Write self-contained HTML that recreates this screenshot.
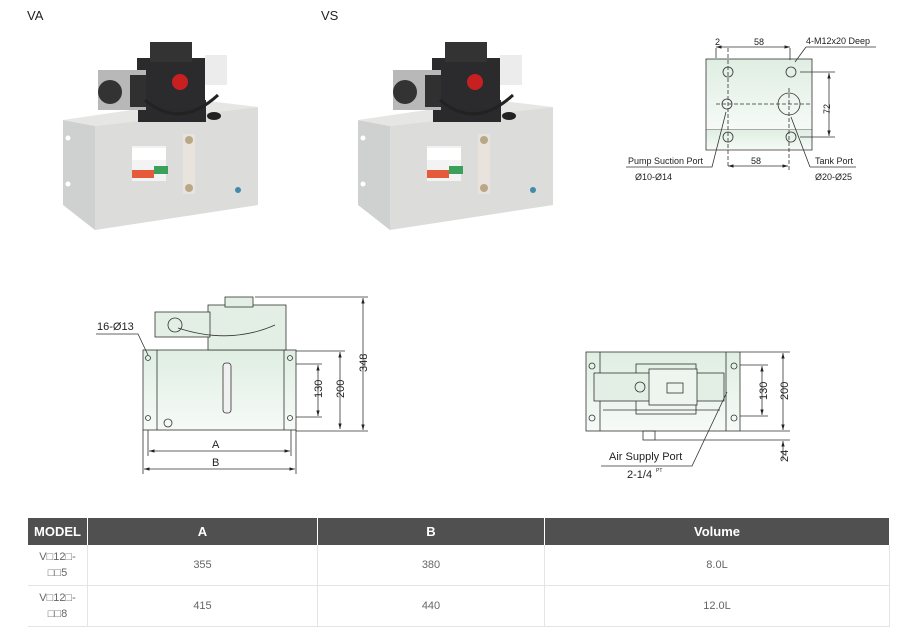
<!DOCTYPE html>
<html><head><meta charset="utf-8"><style>
body{margin:0;width:908px;height:635px;background:#fff;overflow:hidden;position:relative;font-family:"Liberation Sans","Noto Sans CJK SC",sans-serif;}
.lbl{position:absolute;font-size:13px;color:#222;}
table{position:absolute;left:28px;top:518px;width:862px;border-collapse:collapse;font-size:11px;color:#666;}
th{background:#505050;color:#fff;font-size:13px;font-weight:bold;height:27px;border-right:1px solid #fff;padding:0;}
td{text-align:center;height:40px;border-bottom:1px solid #e4e4e4;border-right:1px solid #e4e4e4;padding:0;line-height:16px;}
svg text{font-family:"Liberation Sans",sans-serif;}
</style></head><body>
<div class="lbl" style="left:27px;top:8px">VA</div>
<div class="lbl" style="left:321px;top:8px">VS</div>
<svg width="908" height="510" style="position:absolute;left:0;top:0">
<defs>
<linearGradient id="g1" x1="0" y1="0" x2="0" y2="1"><stop offset="0" stop-color="#dfeee2"/><stop offset="1" stop-color="#f6faf7"/></linearGradient>
<marker id="ar" viewBox="0 0 10 10" refX="10" refY="5" markerWidth="7" markerHeight="7" orient="auto-start-reverse"><path d="M0,2 L10,5 L0,8 z" fill="#222"/></marker>
<g id="unit">
<polygon points="63,120 95,126 95,230 63,205" fill="#cfd0d0"/>
<polygon points="63,120 200,100 258,107 95,126" fill="#e6e6e4"/>
<polygon points="95,126 258,107 258,205 95,230" fill="#dcdcda"/>
<rect x="205" y="55" width="22" height="30" fill="#ececec"/>
<rect x="138" y="100" width="68" height="22" fill="#2a2a2c"/>
<rect x="137" y="58" width="68" height="50" fill="#2b2b2e"/>
<rect x="150" y="42" width="42" height="20" fill="#333"/>
<circle cx="180" cy="82" r="8" fill="#c82020"/>
<rect x="98" y="70" width="48" height="40" fill="#b8b8b8"/>
<circle cx="110" cy="92" r="12" fill="#333"/>
<rect x="130" y="75" width="16" height="32" fill="#303030"/>
<path d="M145,100 Q180,130 218,95" stroke="#222" stroke-width="3" fill="none"/>
<ellipse cx="214" cy="116" rx="7" ry="4" fill="#222"/>
<rect x="132" y="146" width="34" height="35" fill="#f3f3f3"/>
<rect x="132" y="148" width="34" height="12" fill="#fff"/>
<rect x="132" y="170" width="22" height="8" fill="#e55a3a"/>
<rect x="154" y="166" width="14" height="8" fill="#3aa05a"/>
<rect x="183" y="134" width="12" height="60" fill="#e8e3dc"/>
<circle cx="189" cy="140" r="4" fill="#b9a888"/><circle cx="189" cy="188" r="4" fill="#b9a888"/>
<circle cx="238" cy="190" r="3" fill="#4488aa"/>
<circle cx="68" cy="138" r="2.5" fill="#fff"/><circle cx="68" cy="184" r="2.5" fill="#fff"/>
</g>
</defs>
<use href="#unit"/>
<use href="#unit" x="295"/>

<!-- top right plate -->
<g stroke="#333" stroke-width="0.8" fill="none" font-size="9">
<rect x="706" y="59" width="106" height="71" fill="url(#g1)"/>
<circle cx="728" cy="72" r="5"/><circle cx="791" cy="72" r="5"/>
<circle cx="728" cy="137" r="5"/><circle cx="791" cy="137" r="5"/>
<rect x="706" y="130" width="106" height="20" fill="url(#g1)" stroke="none"/>
<path d="M706,130 V150 H812 V130" />
<circle cx="728" cy="137" r="5"/><circle cx="791" cy="137" r="5"/>
<circle cx="727" cy="104" r="5"/><circle cx="789" cy="104" r="11"/>
<path d="M716,104 H810 M728,48 V166 M789,88 V172" stroke-dasharray="4,2"/>
<path d="M716,48 V58 M790,48 V60" />
<path d="M716,47 H790" marker-end="url(#ar)" marker-start="url(#ar)"/>
<path d="M800,72 H835 M800,137 H835"/>
<path d="M829,73 V136" marker-end="url(#ar)" marker-start="url(#ar)"/>
<path d="M728,166 H788" marker-end="url(#ar)" marker-start="url(#ar)"/>
<path d="M806,47 H876 M806,47 L795,62" />
<path d="M626,167 H712 L726,112" />
<path d="M810,167 H856 M810,167 L791,117" />
</g>
<g font-size="9" fill="#222">
<text x="715" y="45">2</text><text x="754" y="45">58</text>
<text x="806" y="44">4-M12x20 Deep</text>
<text x="830" y="108" transform="rotate(-90 830 108) translate(-6 0)" font-size="9">72</text>
<text x="751" y="164">58</text>
<text x="628" y="164">Pump Suction Port</text><text x="635" y="180">Ø10-Ø14</text>
<text x="815" y="164">Tank Port</text><text x="815" y="180">Ø20-Ø25</text>
</g>

<!-- left side drawing -->
<g stroke="#333" stroke-width="0.8" fill="none">
<rect x="143" y="350" width="153" height="80" fill="url(#g1)"/>
<path d="M157,350 V430 M284,350 V430"/>
<rect x="208" y="305" width="78" height="45" fill="#e3efe5"/>
<rect x="155" y="312" width="55" height="25" fill="#e3efe5"/>
<rect x="225" y="297" width="28" height="10" fill="#e3efe5"/>
<circle cx="175" cy="325" r="7"/>
<path d="M178,328 Q230,345 275,325"/>
<rect x="223" y="363" width="8" height="50" rx="3" fill="#f0f0f0"/>
<circle cx="168" cy="423" r="4"/>
<circle cx="148" cy="358" r="2.5"/><circle cx="148" cy="418" r="2.5"/>
<circle cx="290" cy="358" r="2.5"/><circle cx="290" cy="418" r="2.5"/>
<path d="M255,297 H368 M296,351 H345 M296,364 H322 M296,417 H322 M296,431 H368"/>
<path d="M363,298 V430" marker-end="url(#ar)" marker-start="url(#ar)"/>
<path d="M340,352 V429" marker-end="url(#ar)" marker-start="url(#ar)"/>
<path d="M318,365 V416" marker-end="url(#ar)" marker-start="url(#ar)"/>
<path d="M148,430 V456 M291,430 V456 M143,430 V474 M296,430 V474"/>
<path d="M149,451 H290" marker-end="url(#ar)" marker-start="url(#ar)"/>
<path d="M144,469 H295" marker-end="url(#ar)" marker-start="url(#ar)"/>
<path d="M96,334 H138 L148,355"/>
</g>
<g font-size="11" fill="#222">
<text x="97" y="330">16-Ø13</text>
<text x="212" y="448">A</text><text x="212" y="466">B</text>
<text transform="translate(322 398) rotate(-90)">130</text>
<text transform="translate(344 398) rotate(-90)">200</text>
<text transform="translate(367 372) rotate(-90)">348</text>
</g>

<!-- right drawing -->
<g stroke="#333" stroke-width="0.8" fill="none">
<rect x="586" y="352" width="154" height="79" fill="url(#g1)"/>
<path d="M600,352 V431 M726,352 V431"/>
<rect x="636" y="364" width="60" height="50"/>
<rect x="594" y="373" width="130" height="28" fill="#e3efe5"/>
<rect x="649" y="369" width="48" height="36" fill="#eef5ef"/>
<rect x="667" y="383" width="16" height="10"/>
<circle cx="640" cy="387" r="5"/>
<rect x="643" y="431" width="12" height="9"/>
<path d="M603,410 H720"/>
<circle cx="592" cy="366" r="3"/><circle cx="592" cy="418" r="3"/>
<circle cx="734" cy="366" r="3"/><circle cx="734" cy="418" r="3"/>
<path d="M740,352 H790 M740,365 H768 M740,416 H768 M740,431 H790 M655,440 H790"/>
<path d="M783,353 V430" marker-end="url(#ar)" marker-start="url(#ar)"/>
<path d="M762,366 V415" marker-end="url(#ar)" marker-start="url(#ar)"/>
<path d="M783,441 V460" marker-start="url(#ar)"/>
<path d="M601,466 H692 L727,392"/>
</g>
<g font-size="11" fill="#222">
<text x="609" y="460">Air Supply Port</text>
<text x="627" y="478">2-1/4</text><text x="656" y="472" font-size="5">PT</text>
<text transform="translate(767 400) rotate(-90)">130</text>
<text transform="translate(788 400) rotate(-90)">200</text>
<text transform="translate(788 462) rotate(-90)">24</text>
</g>
</svg>

<table>
<tr><th style="width:59px">MODEL</th><th style="width:229px">A</th><th style="width:226px">B</th><th>Volume</th></tr>
<tr><td>V□12□-<br>□□5</td><td>355</td><td>380</td><td>8.0L</td></tr>
<tr><td>V□12□-<br>□□8</td><td>415</td><td>440</td><td>12.0L</td></tr>
</table>
</body></html>
